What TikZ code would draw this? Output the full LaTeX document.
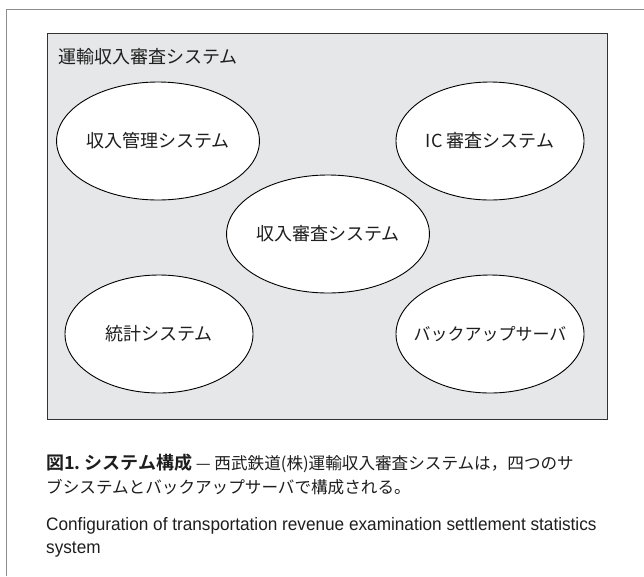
\documentclass[tikz,border=0pt]{standalone}
\usepackage{fontspec}
\newfontfamily\jp{Noto Sans CJK JP}
\newfontfamily\jpb{Noto Sans CJK JP Bold}
\newfontfamily\en[FakeStretch=0.955]{Liberation Sans}
\usetikzlibrary{shapes.geometric}
\definecolor{boxfill}{HTML}{E6E7E8}
\definecolor{framegray}{HTML}{8C8C8C}
\definecolor{boxline}{HTML}{333333}
\definecolor{txt}{HTML}{1E1E1E}
\begin{document}
\begin{tikzpicture}[x=1pt,y=-1pt,
  subsys/.style={ellipse, draw=black, line width=0.9pt, fill=white,
    minimum width=188pt, minimum height=118pt, inner sep=0pt,
    text=txt, font=\jp\fontsize{18pt}{20pt}\selectfont},
  captionline/.style={anchor=base west, inner sep=0pt, text=txt}]
\useasboundingbox (0,0) rectangle (644,576);
\fill[white] (0,0) rectangle (644,576);
\draw[framegray, line width=1pt] (6,576) -- (6,9.5) -- (644,9.5);
\node[draw=boxline, fill=boxfill, line width=1.3pt, minimum width=560pt,
  minimum height=386pt, anchor=north west, inner sep=0pt] (sys) at (47,33) {};
\node[anchor=base west, inner sep=0pt, text=txt,
  font=\jp\fontsize{18pt}{20pt}\selectfont] (title) at (58,63) {運輸収入審査システム};
\node[subsys] (kanri) at (158,141) {収入管理システム};
\node[subsys] (ic) at (490,141) {IC 審査システム};
\node[subsys] (shinsa) at (328,234) {収入審査システム};
\node[subsys] (toukei) at (159,334) {統計システム};
\node[subsys] (backup) at (490,334)
  {\makebox[0pt]{\fontsize{17pt}{20pt}\selectfont バックアップサーバ}};
\node[captionline, font=\jp\fontsize{16.6pt}{20pt}\selectfont] (cap1) at (46,469)
  {{\jpb\fontsize{18pt}{20pt}\selectfont 図1.\ システム構成} — 西武鉄道(株)運輸収入審査システムは，四つのサ};
\node[captionline, font=\jp\fontsize{16.6pt}{20pt}\selectfont] (cap2) at (46,493)
  {ブシステムとバックアップサーバで構成される。};
\node[captionline, font=\en\fontsize{18pt}{20pt}\selectfont] (en1) at (46,530)
  {Configuration of transportation revenue examination settlement statistics};
\node[captionline, font=\en\fontsize{18pt}{20pt}\selectfont] (en2) at (46,553)
  {system};
\end{tikzpicture}
\end{document}
